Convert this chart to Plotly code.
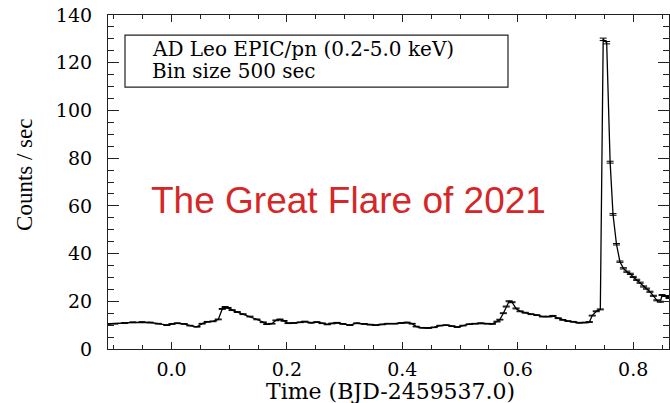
import numpy as np
import plotly.graph_objects as go

# Light curve (BJD-2459537.0, counts/s)
time = [-0.110, -0.098, -0.081, -0.067, -0.051, -0.037, -0.023, -0.008, 0.001, 0.010,
        0.022, 0.032, 0.044, 0.053, 0.062, 0.072, 0.081, 0.088, 0.093, 0.098,
        0.105, 0.114, 0.124, 0.136, 0.148, 0.159, 0.165, 0.174, 0.181, 0.188,
        0.195, 0.202, 0.212, 0.223, 0.231, 0.242, 0.252, 0.261, 0.270, 0.278,
        0.287, 0.297, 0.309, 0.321, 0.334, 0.344, 0.354, 0.365, 0.375, 0.387,
        0.398, 0.408, 0.417, 0.424, 0.434, 0.445, 0.455, 0.465, 0.476, 0.486,
        0.495, 0.505, 0.516, 0.526, 0.536, 0.547, 0.556, 0.564, 0.569, 0.575,
        0.580, 0.585, 0.590, 0.597, 0.604, 0.613, 0.623, 0.633, 0.643, 0.654,
        0.661, 0.670, 0.678, 0.687, 0.696, 0.706, 0.717, 0.724, 0.729, 0.736,
        0.743, 0.748, 0.754, 0.760, 0.765, 0.771, 0.777, 0.783, 0.789, 0.795,
        0.800, 0.806, 0.812, 0.818, 0.823, 0.829, 0.835, 0.841, 0.847, 0.850,
        0.856, 0.862]
rate = [10.5, 10.6, 10.9, 11.2, 11.3, 11.1, 10.6, 10.0, 10.5, 10.8,
        10.5, 9.8, 9.3, 10.6, 11.4, 11.6, 12.4, 16.8, 17.6, 17.2,
        16.3, 15.5, 14.6, 13.6, 12.4, 11.2, 10.4, 10.6, 12.0, 12.4,
        11.8, 10.8, 10.9, 11.2, 11.5, 11.0, 11.3, 10.8, 10.3, 10.7,
        11.0, 10.5, 10.0, 10.8, 10.5, 10.2, 10.0, 10.3, 10.6, 10.6,
        10.9, 11.1, 10.6, 9.4, 8.9, 8.8, 9.1, 9.8, 10.0, 9.6,
        9.2, 9.8, 10.4, 10.6, 10.8, 10.6, 10.5, 11.5, 12.3, 15.0,
        17.8, 20.0, 19.6, 17.0, 15.8, 15.2, 14.6, 14.2, 13.6, 13.6,
        13.9, 12.9, 12.2, 11.7, 11.4, 11.0, 11.1, 11.3, 14.0, 15.8,
        16.6, 129.8, 128.4, 78.3, 56.4, 43.9, 36.6, 33.8, 32.4, 31.5,
        30.2, 29.0, 27.8, 26.2, 25.3, 24.0, 22.3, 20.4, 19.8, 22.6,
        22.2, 21.4]

bin_size = 500.0  # seconds
# Poisson uncertainty of each bin derived from the rate
err = [np.sqrt(r * bin_size) / bin_size for r in rate]

x_ticks = [0.0, 0.2, 0.4, 0.6, 0.8]
x_ticklabels = ["0.0", "0.2", "0.4", "0.6", "0.8"]
y_ticks = [0, 20, 40, 60, 80, 100, 120, 140]

serif_wide = "DejaVu Serif, serif"
serif = "Liberation Serif, Times New Roman, serif"

fig = go.Figure()
fig.add_trace(go.Scatter(
    x=time, y=rate, mode="lines",
    line=dict(color="black", width=1.3),
    error_y=dict(type="data", array=err, visible=True, color="black",
                 thickness=1, width=3.5),
    showlegend=False,
))

fig.update_layout(
    width=670, height=403,
    margin=dict(l=108, r=1, t=15, b=54, autoexpand=False),
    paper_bgcolor="white", plot_bgcolor="white",
    font=dict(family=serif_wide, color="black", size=18),
    xaxis=dict(
        range=[-0.110, 0.862], tickvals=x_ticks, ticktext=x_ticklabels,
        ticks="inside", ticklen=7, tickwidth=1, tickcolor="#222",
        showline=True, linecolor="#222", linewidth=1.2, mirror="ticks",
        showgrid=False, zeroline=False, automargin=False,
        minor=dict(dtick=0.05, tick0=0, ticks="inside", ticklen=3.5,
                   tickcolor="#222", showgrid=False),
        tickfont=dict(family=serif_wide, size=19),
        ticklabelstandoff=3, ticklabeloverflow="allow",
    ),
    yaxis=dict(
        range=[0, 140], tickvals=y_ticks,
        ticks="inside", ticklen=11, tickwidth=1, tickcolor="#222",
        showline=True, linecolor="#222", linewidth=1.2, mirror="ticks",
        showgrid=False, zeroline=False, automargin=False,
        minor=dict(dtick=5, tick0=0, ticks="inside", ticklen=5.5,
                   tickcolor="#222", showgrid=False),
        tickfont=dict(family=serif_wide, size=19),
        ticklabelstandoff=11, ticklabeloverflow="allow",
    ),
    shapes=[dict(type="rect", xref="paper", yref="paper",
                 x0=0.0303, x1=0.713, y0=0.784, y1=0.940,
                 line=dict(color="#222", width=1.2), fillcolor="rgba(0,0,0,0)")],
    annotations=[
        dict(text="Time (BJD-2459537.0)", xref="paper", yref="paper",
             x=0.503, y=-0.1287, xanchor="center", yanchor="middle", showarrow=False,
             font=dict(family=serif_wide, size=22, color="black")),
        dict(text="Counts / sec", xref="paper", yref="paper", textangle=-90,
             x=-0.148, y=0.521, xanchor="center", yanchor="middle", showarrow=False,
             font=dict(family=serif, size=23, color="black")),
        dict(text="AD Leo EPIC/pn (0.2-5.0 keV)", xref="paper", yref="paper",
             x=0.074, y=0.897, xanchor="left", yanchor="middle", showarrow=False,
             font=dict(family=serif_wide, size=20, color="black")),
        dict(text="Bin size 500 sec", xref="paper", yref="paper",
             x=0.074, y=0.833, xanchor="left", yanchor="middle", showarrow=False,
             font=dict(family=serif_wide, size=20, color="black")),
        dict(text="The Great Flare of 2021", xref="x", yref="y",
             x=0.307, y=62.4, xanchor="center", yanchor="middle", showarrow=False,
             font=dict(family="Liberation Sans, Arial, sans-serif", size=37,
                       color="#d62728")),
    ],
)

# remove the default 8px page margin so the figure fills the window exactly
fig.write_html("out.html",
               config={"displayModeBar": False},
               post_script="document.body.style.margin='0';document.body.style.overflow='hidden';")
